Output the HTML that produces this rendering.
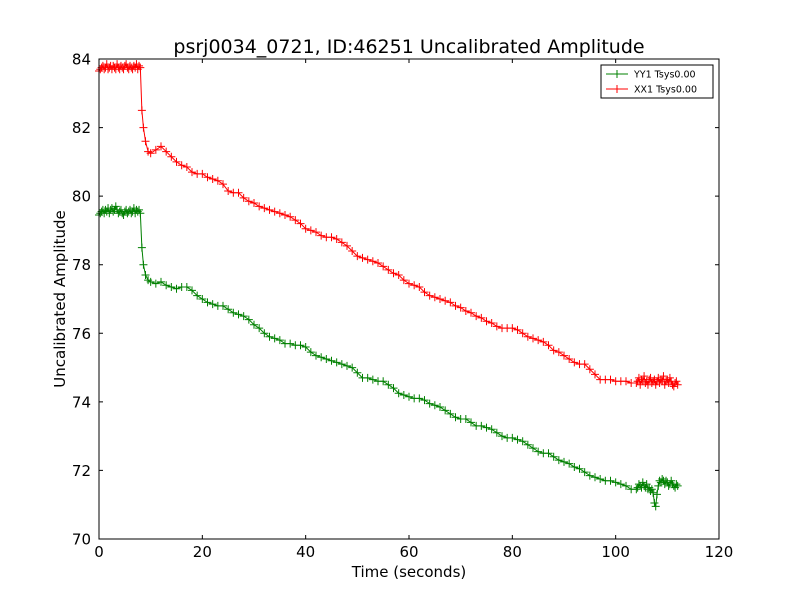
<!DOCTYPE html>
<html><head><meta charset="utf-8"><style>
body{margin:0;background:#fff;font-family:"DejaVu Sans","Liberation Sans",sans-serif}
svg text{font-family:"DejaVu Sans","Liberation Sans",sans-serif}
</style></head><body>
<svg id="chart" width="800" height="600" xmlns="http://www.w3.org/2000/svg">
<rect width="800" height="600" fill="#fff"/>
<text x="409" y="53" font-size="19" text-anchor="middle">psrj0034_0721, ID:46251 Uncalibrated Amplitude</text>
<text x="409" y="577" font-size="15" text-anchor="middle">Time (seconds)</text>
<text transform="translate(65,299) rotate(-90)" font-size="15" text-anchor="middle">Uncalibrated Amplitude</text>
<g id="ticks"></g>
<g id="series"></g>
<rect x="99" y="59" width="620" height="480" fill="none" stroke="#000" stroke-width="1"/>
<g>
<rect x="601" y="65" width="112" height="33" fill="#fff" stroke="#000" stroke-width="1"/>
<g><line x1="606" y1="74" x2="628" y2="74" stroke="green"/><path d="M613 74h8M617 70v8" stroke="green"/><text x="634" y="77.5" font-size="9.5">YY1 Tsys0.00</text></g>
<g><line x1="606" y1="89" x2="628" y2="89" stroke="red"/><path d="M613 89h8M617 85v8" stroke="red"/><text x="634" y="92.5" font-size="9.5">XX1 Tsys0.00</text></g>
</g>
</svg>
<script>
const xTicks=[0,20,40,60,80,100,120];
const yTicks=[70,72,74,76,78,80,82,84];
const startNoisyRed=[83.65,83.7,83.75,83.8,83.7,83.75,83.85,83.7,83.75,83.8,83.7,83.8,83.75,83.7,83.85,83.75,83.7,83.8,83.75,83.7,83.8,83.85,83.75,83.7,83.8,83.75,83.7,83.8,83.75,83.85,83.7,83.8,83.75];
const startNoisyGreen=[79.45,79.5,79.55,79.6,79.5,79.6,79.55,79.65,79.5,79.6,79.65,79.55,79.6,79.7,79.6,79.5,79.55,79.6,79.5,79.45,79.55,79.6,79.5,79.55,79.6,79.5,79.55,79.65,79.5,79.6,79.55,79.6,79.5];
const midTimes=[8.3,8.6,9,9.5,10,11,12,13,14,15,16,17,18,19,20,21,22,23,24,25,26,27,28,29,30,31,32,33,34,35,36,37,38,39,40,41,42,43,44,45,46,47,48,49,50,51,52,53,54,55,56,57,58,59,60,61,62,63,64,65,66,67,68,69,70,71,72,73,74,75,76,77,78,79,80,81,82,83,84,85,86,87,88,89,90,91,92,93,94,95,96,97,98,99,100,101,102,103];
const midRed=[82.5,82.0,81.6,81.3,81.25,81.35,81.45,81.3,81.15,81.0,80.9,80.85,80.7,80.65,80.65,80.55,80.5,80.45,80.35,80.15,80.1,80.1,79.95,79.85,79.8,79.7,79.65,79.6,79.55,79.5,79.45,79.4,79.3,79.2,79.05,79.0,78.95,78.85,78.8,78.8,78.75,78.65,78.55,78.4,78.25,78.2,78.15,78.1,78.05,77.95,77.85,77.75,77.7,77.55,77.45,77.4,77.35,77.2,77.1,77.05,77.0,76.95,76.9,76.8,76.75,76.65,76.6,76.5,76.45,76.35,76.3,76.2,76.15,76.15,76.15,76.1,76.0,75.9,75.85,75.8,75.75,75.65,75.5,75.45,75.35,75.25,75.15,75.1,75.1,74.95,74.8,74.65,74.65,74.65,74.6,74.6,74.6,74.55];
const midGreen=[78.5,78.0,77.7,77.55,77.5,77.45,77.5,77.4,77.35,77.3,77.35,77.35,77.25,77.1,77.0,76.9,76.85,76.8,76.8,76.7,76.6,76.55,76.5,76.4,76.25,76.15,76.0,75.9,75.85,75.8,75.7,75.7,75.65,75.65,75.6,75.45,75.35,75.3,75.25,75.2,75.15,75.1,75.05,75.0,74.85,74.7,74.7,74.65,74.6,74.6,74.5,74.4,74.25,74.2,74.15,74.1,74.1,74.05,73.95,73.9,73.85,73.75,73.65,73.55,73.5,73.5,73.4,73.3,73.3,73.25,73.2,73.1,73.0,72.95,72.95,72.9,72.85,72.75,72.65,72.55,72.5,72.5,72.4,72.3,72.25,72.2,72.1,72.05,71.95,71.85,71.8,71.75,71.7,71.7,71.65,71.6,71.55,71.45];
const endNoisyRed=[74.55,74.6,74.7,74.5,74.65,74.6,74.75,74.55,74.6,74.5,74.65,74.7,74.55,74.6,74.65,74.5,74.6,74.7,74.55,74.65,74.6,74.75,74.5,74.6,74.65,74.55,74.7,74.6,74.5,74.45,74.55,74.6,74.5];
const endNoisyGreen=[71.45,71.5,71.6,71.55,71.5,71.65,71.55,71.5,71.6,71.45,71.5,71.4,71.45,71.35,71.05,70.95,71.3,71.55,71.7,71.65,71.75,71.7,71.6,71.7,71.65,71.55,71.6,71.7,71.6,71.55,71.5,71.6,71.55];
const X=v=>99+v*620/120, Y=v=>539-(v-70)*480/14;
const NS="http://www.w3.org/2000/svg";
function mk(tag,attrs,parent){const e=document.createElementNS(NS,tag);for(const k in attrs)e.setAttribute(k,attrs[k]);parent.appendChild(e);return e;}
const tg=document.getElementById('ticks');
xTicks.forEach(t=>{const x=X(t);
 const l=mk('path',{d:`M${x} 539v-4M${x} 59v4`,stroke:'#000'},tg);
 
 
 const tx=mk('text',{x:x,y:557,'font-size':15,'text-anchor':'middle'},tg);tx.textContent=t;
 
 });
yTicks.forEach(t=>{const y=Y(t);
 const l=mk('path',{d:`M99 ${y}h4M719 ${y}h-4`,stroke:'#000'},tg);
 
 
 const tx=mk('text',{x:91,y:y+5.5,'font-size':15,'text-anchor':'end'},tg);tx.textContent=t;
 
 });
function build(startVals,mid,endVals){const pts=[];
 startVals.forEach((v,i)=>pts.push([i*0.25,v]));
 midTimes.forEach((t,i)=>pts.push([t,mid[i]]));
 endVals.forEach((v,i)=>pts.push([104+i*0.25,v]));return pts;}
const sg=document.getElementById('series');
function draw(pts,color,name){const g=mk('g',{},sg);
 
 
 mk('polyline',{points:pts.map(p=>X(p[0])+','+Y(p[1])).join(' '),fill:'none',stroke:color,'stroke-width':1},g);
 let d='';pts.forEach(p=>{const x=X(p[0]),y=Y(p[1]);d+=`M${x-4} ${y}h8M${x} ${y-4}v8`;});
 mk('path',{d:d,stroke:color,'stroke-width':1,fill:'none'},g);}
draw(build(startNoisyGreen,midGreen,endNoisyGreen),'green','series-yy1');
draw(build(startNoisyRed,midRed,endNoisyRed),'red','series-xx1');
</script>
</body></html>
